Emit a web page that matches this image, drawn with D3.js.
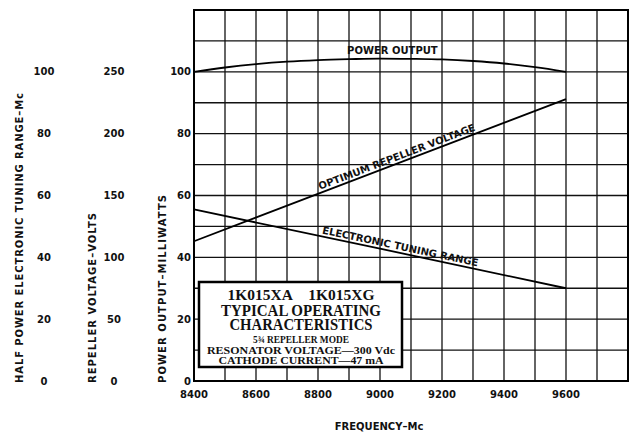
<!DOCTYPE html>
<html>
<head>
<meta charset="utf-8" />
<script src="https://d3js.org/d3.v7.min.js"></script>
<style>
    body { margin: 0; background: #fff; }
    .lbl { font-family: "DejaVu Sans", sans-serif; font-weight: bold; font-size: 10px; fill: #111; }
    .box text { font-family: "Liberation Serif", serif; font-weight: bold; fill: #111; }
</style>
</head>
<body>
<svg id="chart" width="638" height="436"></svg>
<script>
// frequency in Mc
var freq = [8400, 8500, 8600, 8700, 8800, 8900, 9000, 9100, 9200, 9300, 9400, 9500, 9600];
// power output, milliwatts
var powerOut = [100, 101.4, 102.5, 103.3, 103.8, 104.1, 104.3, 104.2, 104, 103.5, 102.7, 101.5, 100];
// optimum repeller voltage, volts
var lineFreq = [8400, 9000, 9600];
var repellerVolts = [113, 170.5, 228];
// half power electronic tuning range, Mc
var tuningRange = [55.5, 42.8, 30];

var xTicks = [8400, 8600, 8800, 9000, 9200, 9400, 9600];
var powerTicks = [0, 20, 40, 60, 80, 100];
var tuningTicks = [0, 20, 40, 60, 80, 100];
var repellerTicks = [0, 50, 100, 150, 200, 250];

var legendLines = [
    "1K015XA\u00a0\u00a0\u00a0\u00a01K015XG",
    "TYPICAL OPERATING",
    "CHARACTERISTICS",
    "5\u00be REPELLER MODE",
    "RESONATOR VOLTAGE\u2014300 Vdc",
    "CATHODE CURRENT\u201447 mA"
];

var svg = d3.select("#chart");

var plotLeft = 194, plotRight = 628, plotTop = 10, plotBottom = 381;

var x = d3.scaleLinear().domain([8400, 9800]).range([plotLeft, plotRight]);
var y = d3.scaleLinear().domain([0, 120]).range([plotBottom, plotTop]);
var yRep = d3.scaleLinear().domain([0, 300]).range([plotBottom, plotTop]);
var yTun = d3.scaleLinear().domain([0, 120]).range([plotBottom, plotTop]);

// grid
var g = svg.append("g");
g.selectAll(".vg")
    .data(d3.range(8400, 9801, 100))
    .enter().append("line")
    .attr("x1", function(d) { return x(d); })
    .attr("x2", function(d) { return x(d); })
    .attr("y1", plotTop)
    .attr("y2", plotBottom)
    .attr("stroke", "#111")
    .attr("stroke-width", 1.3);

g.selectAll(".hg")
    .data(d3.range(0, 121, 10))
    .enter().append("line")
    .attr("x1", plotLeft)
    .attr("x2", plotRight)
    .attr("y1", function(d) { return y(d); })
    .attr("y2", function(d) { return y(d); })
    .attr("stroke", "#111")
    .attr("stroke-width", 1.3);

g.append("rect")
    .attr("x", plotLeft).attr("y", plotTop)
    .attr("width", plotRight - plotLeft).attr("height", plotBottom - plotTop)
    .attr("fill", "none").attr("stroke", "#000").attr("stroke-width", 2);

// curves
var powerLine = d3.line()
    .x(function(d, i) { return x(freq[i]); })
    .y(function(d) { return y(d); })
    .curve(d3.curveMonotoneX);

svg.append("path")
    .datum(powerOut)
    .attr("d", powerLine)
    .attr("fill", "none").attr("stroke", "#000").attr("stroke-width", 1.8);

var repLine = d3.line()
    .x(function(d, i) { return x(lineFreq[i]); })
    .y(function(d) { return yRep(d); });

svg.append("path")
    .datum(repellerVolts)
    .attr("d", repLine)
    .attr("fill", "none").attr("stroke", "#000").attr("stroke-width", 1.8);

var tunLine = d3.line()
    .x(function(d, i) { return x(lineFreq[i]); })
    .y(function(d) { return yTun(d); });

svg.append("path")
    .datum(tuningRange)
    .attr("d", tunLine)
    .attr("fill", "none").attr("stroke", "#000").attr("stroke-width", 1.8);

// curve labels
svg.append("text")
    .attr("class", "lbl")
    .attr("x", x(9040))
    .attr("y", y(104.3) - 5)
    .attr("text-anchor", "middle")
    .attr("font-size", 9.5)
    .text("POWER OUTPUT");

function alongLabel(vals, scale, f0, txt, off) {
    var x0 = x(lineFreq[0]), y0 = scale(vals[0]);
    var x1 = x(lineFreq[2]), y1 = scale(vals[2]);
    var ang = Math.atan2(y1 - y0, x1 - x0) * 180 / Math.PI;
    var t = (f0 - lineFreq[0]) / (lineFreq[2] - lineFreq[0]);
    var px = x0 + t * (x1 - x0), py = y0 + t * (y1 - y0);
    svg.append("text")
        .attr("class", "lbl")
        .attr("font-size", 9.5)
        .attr("transform", "translate(" + px + "," + py + ") rotate(" + ang + ")")
        .attr("dy", off)
        .text(txt);
}
alongLabel(repellerVolts, yRep, 8810, "OPTIMUM REPELLER VOLTAGE", -3);
alongLabel(tuningRange, yTun, 8810, "ELECTRONIC TUNING RANGE", -3);

// tick labels
svg.selectAll(".xt")
    .data(xTicks)
    .enter().append("text")
    .attr("class", "lbl")
    .attr("x", function(d) { return x(d); })
    .attr("y", 398)
    .attr("text-anchor", "middle")
    .text(function(d) { return d; });

svg.selectAll(".pt")
    .data(powerTicks)
    .enter().append("text")
    .attr("class", "lbl")
    .attr("x", 191)
    .attr("y", function(d) { return y(d); })
    .attr("dy", "0.36em")
    .attr("text-anchor", "end")
    .text(function(d) { return d; });

svg.selectAll(".rt")
    .data(repellerTicks)
    .enter().append("text")
    .attr("class", "lbl")
    .attr("x", 114)
    .attr("y", function(d) { return yRep(d); })
    .attr("dy", "0.36em")
    .attr("text-anchor", "middle")
    .text(function(d) { return d; });

svg.selectAll(".tt")
    .data(tuningTicks)
    .enter().append("text")
    .attr("class", "lbl")
    .attr("x", 44)
    .attr("y", function(d) { return yTun(d); })
    .attr("dy", "0.36em")
    .attr("text-anchor", "middle")
    .text(function(d) { return d; });

// axis titles
svg.append("text").attr("class", "lbl")
    .attr("transform", "translate(23,383) rotate(-90)")
    .attr("textLength", 290).attr("lengthAdjust", "spacing")
    .text("HALF POWER ELECTRONIC TUNING RANGE\u2013Mc");
svg.append("text").attr("class", "lbl")
    .attr("transform", "translate(96,383) rotate(-90)")
    .attr("textLength", 170).attr("lengthAdjust", "spacing")
    .text("REPELLER VOLTAGE\u2013VOLTS");
svg.append("text").attr("class", "lbl")
    .attr("transform", "translate(166,383) rotate(-90)")
    .attr("textLength", 188).attr("lengthAdjust", "spacing")
    .text("POWER OUTPUT\u2013MILLIWATTS");
svg.append("text").attr("class", "lbl")
    .attr("x", 379).attr("y", 430)
    .attr("text-anchor", "middle")
    .text("FREQUENCY\u2013Mc");

// legend box
var box = svg.append("g").attr("class", "box");
box.append("rect")
    .attr("x", 199).attr("y", 282).attr("width", 203).attr("height", 85)
    .attr("fill", "#fff").attr("stroke", "#000").attr("stroke-width", 2.5);

var lineY = [300, 316, 330, 343, 353.5, 364];
var lineSize = [15, 16, 16, 10.5, 10.5, 10.5];
var lineLen = [147, 160, 143, 96, 188, 165];
box.selectAll(".bt")
    .data(legendLines)
    .enter().append("text")
    .attr("x", 301)
    .attr("y", function(d, i) { return lineY[i]; })
    .attr("text-anchor", "middle")
    .attr("font-size", function(d, i) { return lineSize[i]; })
    .attr("textLength", function(d, i) { return lineLen[i]; })
    .attr("lengthAdjust", "spacingAndGlyphs")
    .text(function(d) { return d; });
</script>
</body>
</html>
